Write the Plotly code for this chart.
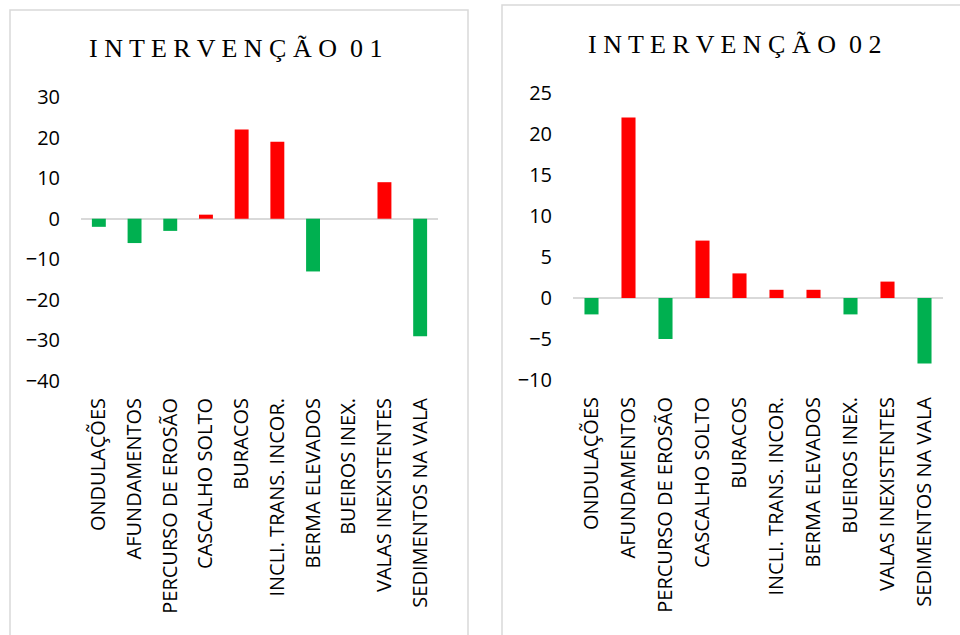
import plotly.graph_objects as go
from plotly.subplots import make_subplots

categories = [
    "ONDULAÇÕES", "AFUNDAMENTOS", "PERCURSO DE EROSÃO", "CASCALHO SOLTO",
    "BURACOS", "INCLI. TRANS. INCOR.", "BERMA ELEVADOS", "BUEIROS INEX.",
    "VALAS INEXISTENTES", "SEDIMENTOS NA VALA",
]
intervencao_01 = [-2, -6, -3, 1, 22, 19, -13, 0, 9, -29]
intervencao_02 = [-2, 22, -5, 7, 3, 1, 1, -2, 2, -8]

titles = ["INTERVENÇÃO 01", "INTERVENÇÃO 02"]
y_ticks_01 = [30, 20, 10, 0, -10, -20, -30, -40]
y_ticks_02 = [25, 20, 15, 10, 5, 0, -5, -10]

RED = "#FF0000"
GREEN = "#00B050"
W, H = 960, 635


def bar_colors(values):
    return [RED if v > 0 else GREEN for v in values]


def spaced(text):
    # wide letter spacing for the panel titles, a wider gap between words
    words = text.split(" ")
    return " \u00a0".join(" ".join(list(w)) for w in words)


fig = make_subplots(rows=1, cols=2)

fig.add_trace(go.Bar(x=categories, y=intervencao_01, marker_color=bar_colors(intervencao_01),
                     marker_line_width=0, width=0.39, showlegend=False), row=1, col=1)
fig.add_trace(go.Bar(x=categories, y=intervencao_02, marker_color=bar_colors(intervencao_02),
                     marker_line_width=0, width=0.38, showlegend=False), row=1, col=2)

tick_font = dict(family="Open Sans", size=20, color="#000000")
cat_font = dict(family="Open Sans", size=20, color="#000000")

fig.update_xaxes(tickangle=-90, tickfont=cat_font, showline=False, showgrid=False,
                 zeroline=False, ticks="", ticklabelstandoff=12, automargin=False)
fig.update_xaxes(domain=[81 / W, 438 / W], row=1, col=1)
fig.update_xaxes(domain=[573 / W, 943 / W], row=1, col=2)

common_y = dict(showgrid=False, showline=False, zeroline=True, zerolinecolor="#D9D9D9",
                zerolinewidth=1.5, ticks="", tickfont=tick_font, ticklabelstandoff=20,
                automargin=False)
fig.update_yaxes(range=[-40, 30], tickvals=y_ticks_01, domain=[1 - 381 / H, 1 - 97 / H],
                 **common_y, row=1, col=1)
fig.update_yaxes(range=[-10, 25], tickvals=y_ticks_02, domain=[1 - 380 / H, 1 - 93 / H],
                 **common_y, row=1, col=2)

# panel frames
frame = dict(type="rect", xref="paper", yref="paper", line=dict(color="#D9D9D9", width=1.5),
             fillcolor="rgba(0,0,0,0)", layer="below")
fig.add_shape(x0=10 / W, x1=468 / W, y0=-0.05, y1=1 - 10 / H, **frame)
fig.add_shape(x0=502 / W, x1=1.05, y0=-0.05, y1=1 - 5 / H, **frame)

# panel titles
title_font = dict(family="Liberation Serif", size=26, color="#000000")
fig.add_annotation(text=spaced(titles[0]), x=235.5 / W, y=1 - 48 / H, xref="paper", yref="paper",
                   xanchor="center", yanchor="middle", showarrow=False, font=title_font)
fig.add_annotation(text=spaced(titles[1]), x=734.5 / W, y=1 - 44 / H, xref="paper", yref="paper",
                   xanchor="center", yanchor="middle", showarrow=False, font=title_font)

fig.update_layout(width=W, height=H, margin=dict(l=0, r=0, t=0, b=0, autoexpand=False),
                  paper_bgcolor="white", plot_bgcolor="white", bargap=0.6)

fig.write_html("out.html")
